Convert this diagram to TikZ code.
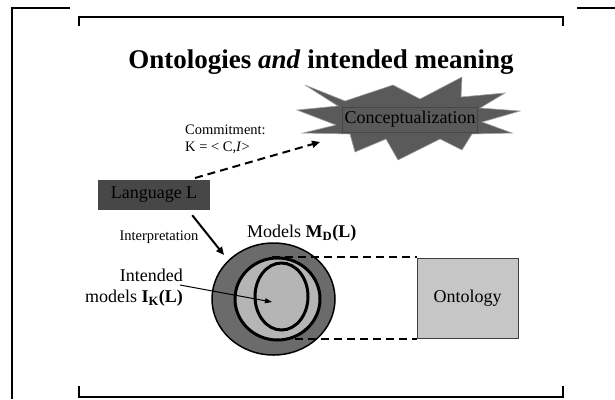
\documentclass[tikz,border=0pt]{standalone}
\usepackage{fontspec}
\setmainfont{Liberation Serif}
\usetikzlibrary{arrows.meta,shapes.geometric}
\definecolor{starfill}{HTML}{5A5A5A}
\definecolor{stardraw}{HTML}{A0A0A0}
\definecolor{langfill}{HTML}{474747}
\definecolor{outerfill}{HTML}{6B6B6B}
\definecolor{innerfill}{HTML}{B5B5B5}
\definecolor{ontofill}{HTML}{C6C6C6}
\begin{document}
\begin{tikzpicture}[x=1pt,y=-1pt,
  frame/.style={line width=1.5pt},
  bracket/.style={line width=2.5pt},
  big/.style={font=\fontsize{18}{21}\selectfont, inner sep=0pt},
  small/.style={font=\fontsize{14.5}{17}\selectfont, inner sep=0pt},
  ring/.style={draw=black, line width=3pt, fill=innerfill},
  arr/.style={-{Triangle[length=8pt,width=7pt]}},
]
\useasboundingbox (0,0) rectangle (615,399);
% page frame
\draw[frame] (70,8) -- (12,8) -- (12,399);
\draw[frame] (577,8) -- (615,8);
\draw[bracket] (79,26) -- (79,17) -- (563,17) -- (563,26);
\draw[bracket] (79,386) -- (79,397) -- (563,397) -- (563,386);
% title
\node[font=\fontsize{27}{31}\selectfont\bfseries, inner sep=0pt] (title) at (321,62) {Ontologies \textit{and} intended meaning};
% star
\filldraw[fill=starfill, draw=stardraw, line width=0.6pt]
  (305,85) -- (345,101) -- (393,85) -- (420,99) -- (462,77) -- (461,97) -- (505,93)
  -- (480,108) -- (520,111) -- (482,122) -- (512,133) -- (472,134) -- (462,150)
  -- (440,139) -- (398,160) -- (386,139) -- (355,152) -- (350,134) -- (303,133)
  -- (336,125) -- (297,110) -- (338,106) -- cycle;
\node[draw=langfill, fill=starfill, text=black, line width=0.6pt, minimum width=135pt, minimum height=25pt, big] (concept) at (410,119.5) {Conceptualization};
% language
\node[fill=langfill, text=black, minimum width=112pt, minimum height=30pt, big] (lang) at (154,195) {Language L};
% commitment
\node[small, anchor=north west, align=left] (commit) at (185,125) {Commitment:\\K = < C,\textit{I}>};
\coordinate (cstart) at (195,178);
\coordinate (cend) at (320,142);
\draw[arr, dashed, dash pattern=on 8pt off 5pt, line width=2pt] (cstart) -- (cend);
% models
\draw[fill=outerfill, draw=black, line width=1.5pt] (273.5,299) ellipse [x radius=61.5, y radius=56];
\node (mid) [ring, ellipse, minimum width=85pt, minimum height=82pt, inner sep=0pt] at (277.5,299) {};
\node (inner) [ring, ellipse, minimum width=53pt, minimum height=67pt, inner sep=0pt] at (281.5,296.5) {};
\coordinate (outerNW) at (224,255);
\draw[arr, line width=2pt] (lang.south east) ++(-18,5) coordinate (istart) (istart) -- (outerNW);
\node[small] (interp) at (159,237) {Interpretation};
\node[big, anchor=south west] (models) at (247,242) {Models \textbf{M\textsubscript{D}(L)}};
% ontology
\node[draw=black!75, fill=ontofill, line width=0.8pt, minimum width=101pt, minimum height=80pt, big] (onto) at (467.5,298) {Ontology};
\coordinate (dtop) at (272,257);
\coordinate (dbot) at (295,339);
\draw[dashed, dash pattern=on 8pt off 5pt, line width=2pt] (dtop) -- (dtop -| onto.west);
\draw[dashed, dash pattern=on 8pt off 5pt, line width=2pt] (dbot) -- (dbot -| onto.west);
% intended
\node[big, align=right, anchor=east] (intended) at (183,288) {Intended\\models \textbf{I\textsubscript{K}(L)}};
\coordinate (ipoint) at (272,302);
\draw[-{Triangle[length=7pt,width=5pt]}, line width=1pt] (180,285) -- (ipoint);
\end{tikzpicture}
\end{document}
